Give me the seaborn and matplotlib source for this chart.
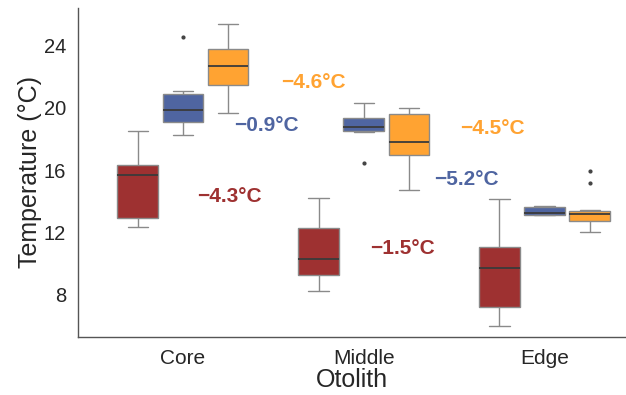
import numpy as np
import pandas as pd
import matplotlib
matplotlib.use("Agg")
import matplotlib.pyplot as plt
import seaborn as sns

# 耳石区域与三组数据
regions = ["Core", "Middle", "Edge"]
groups = ["G1", "G2", "G3"]
colors = ["#9E3131", "#4F65A1", "#FFA332"]

core_g1 = [12.35, 12.6, 12.9, 14.2, 15.67, 16.0, 16.33, 17.2, 18.49]
core_g2 = [18.27, 18.8, 19.1, 19.5, 19.83, 20.3, 20.88, 21.05, 24.53]
core_g3 = [19.69, 20.8, 21.48, 22.1, 22.67, 23.2, 23.76, 24.6, 25.39]
middle_g1 = [8.23, 8.8, 9.30, 9.8, 10.28, 11.3, 12.31, 13.2, 14.24]
middle_g2 = [16.48, 18.44, 18.5, 18.6, 18.76, 19.0, 19.34, 19.8, 20.33]
middle_g3 = [14.75, 16.0, 17.0, 17.4, 17.78, 18.7, 19.62, 19.8, 19.98]
edge_g1 = [6.0, 6.6, 7.2, 8.5, 9.75, 10.4, 11.05, 12.6, 14.13]
edge_g2 = [13.1, 13.12, 13.15, 13.2, 13.27, 13.45, 13.62, 13.66, 13.7]
edge_g3 = [12.06, 12.4, 12.6, 12.76, 12.9, 13.05, 13.17, 13.25, 13.33,
           13.4, 13.47, 15.17, 15.97]

# 标注文字：(文本, 颜色序号, x位置, y位置)
labels = ["\u22124.6\u00b0C", "\u22120.9\u00b0C", "\u22124.3\u00b0C",
          "\u22124.5\u00b0C", "\u22125.2\u00b0C", "\u22121.5\u00b0C"]
label_color = [2, 1, 0, 2, 1, 0]
label_x = [0.72, 0.46, 0.26, 1.71, 1.57, 1.215]
label_y = [21.63, 18.87, 14.28, 18.66, 15.41, 10.97]

samples = {
    ("Core", "G1"): core_g1, ("Core", "G2"): core_g2, ("Core", "G3"): core_g3,
    ("Middle", "G1"): middle_g1, ("Middle", "G2"): middle_g2, ("Middle", "G3"): middle_g3,
    ("Edge", "G1"): edge_g1, ("Edge", "G2"): edge_g2, ("Edge", "G3"): edge_g3,
}
rows = []
for (reg, grp), vals in samples.items():
    for v in vals:
        rows.append({"Otolith": reg, "Group": grp, "Temp": v})
df = pd.DataFrame(rows)

sns.set_style("white")
plt.rcParams['font.family'] = ['Liberation Sans', 'DejaVu Sans']

fig = plt.figure(figsize=(6.26, 3.95), dpi=100)
ax = fig.add_axes([0.1246, 0.1468, 0.8754, 0.833])

sns.boxplot(data=df, x="Otolith", y="Temp", hue="Group", order=regions,
            hue_order=groups, palette=colors, width=0.75, gap=0.1,
            saturation=1, linecolor="#8a8a8a", linewidth=1,
            whis=1.5, fliersize=2, legend=False, ax=ax,
            medianprops=dict(color="#3a3a3a", linewidth=1.3),
            flierprops=dict(marker="o", markerfacecolor="#444444",
                            markeredgecolor="#444444"))

for t, ci, x, y in zip(labels, label_color, label_x, label_y):
    ax.text(x, y, t, color=colors[ci], fontsize=15, fontweight="bold",
            ha="center", va="center")

ax.set_xlim(-0.58, 2.45)
ax.set_ylim(5.3, 26.4)
ax.set_yticks([8, 12, 16, 20, 24])
ax.set_xlabel("Otolith", fontsize=18, labelpad=0)
ax.set_ylabel("Temperature (\u00b0C)", fontsize=18, labelpad=1)
ax.tick_params(axis="both", labelsize=14.5, length=5, width=1,
               color="#aaaaaa", direction="out")
ax.tick_params(axis="x", labelsize=15)
sns.despine(ax=ax)
for s in ["left", "bottom"]:
    ax.spines[s].set_color("#555555")
    ax.spines[s].set_linewidth(1)

fig.savefig("out.png", dpi=100)
